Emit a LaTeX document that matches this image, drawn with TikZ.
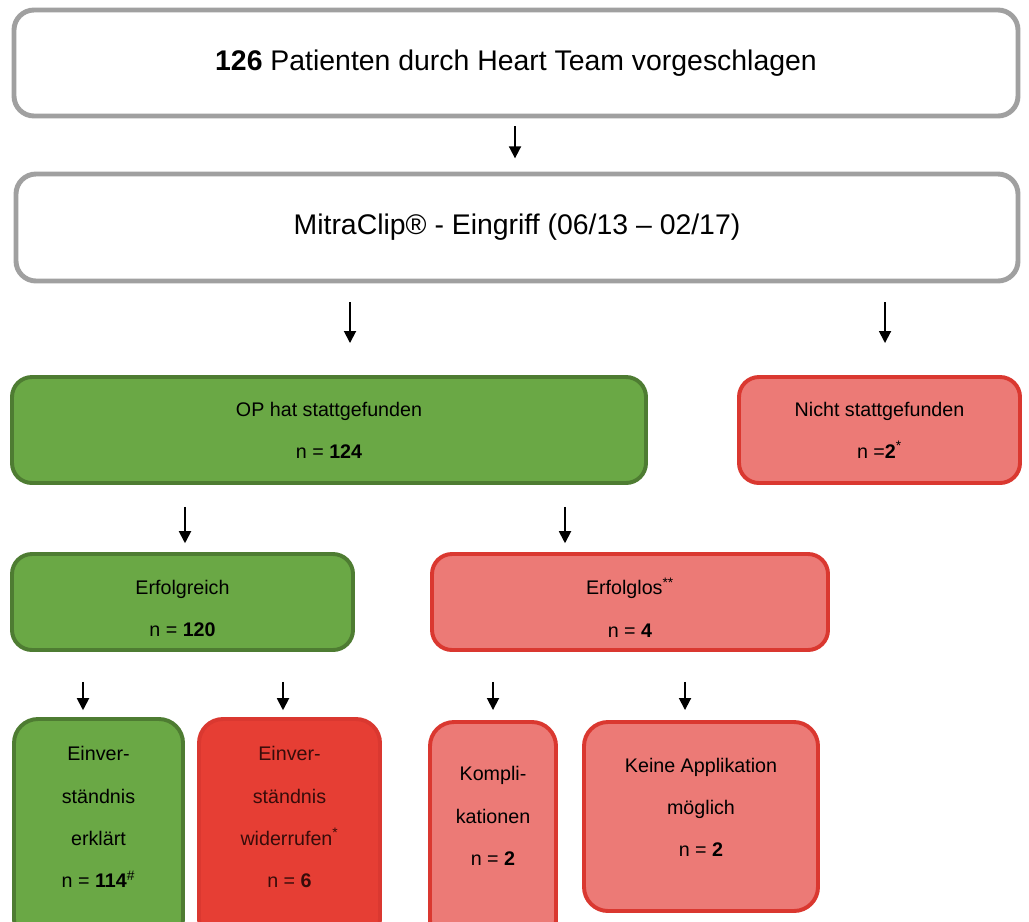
\documentclass[tikz,border=0pt]{standalone}
\usepackage{fontspec}
\setmainfont{Liberation Sans}
\usetikzlibrary{positioning, arrows.meta}
\definecolor{boxgray}{RGB}{160,160,160}
\definecolor{okgreen}{RGB}{106,168,69}
\definecolor{okgreenline}{RGB}{78,124,50}
\definecolor{failred}{RGB}{236,122,118}
\definecolor{failredline}{RGB}{218,56,48}
\definecolor{stopred}{RGB}{230,62,52}
\definecolor{stoptext}{RGB}{55,12,10}
\tikzset{
  px/.style 2 args={minimum width=#1*0.025cm, minimum height=#2*0.025cm},
  headbox/.style={draw=boxgray, line width=3.5pt, rounded corners=0.5cm, fill=white, align=center, font=\fontsize{20.2}{24}\selectfont},
  greenbox/.style={draw=okgreenline, fill=okgreen, line width=2.8pt, rounded corners=0.5cm, align=center, font=\fontsize{14}{30}\selectfont},
  redbox/.style={greenbox, draw=failredline, fill=failred},
  stopbox/.style={redbox, fill=stopred, text=stoptext},
  arr/.style={line width=1.3pt, -{Triangle[width=0.3cm,length=0.3cm]}},
}
\begin{document}
\begin{tikzpicture}[x=0.025cm, y=-0.025cm]
        \useasboundingbox (0,0) rectangle (1029,921);
        %Header
        \node[headbox, px={1004}{106}] (top) at (516,63) {\textbf{126} Patienten durch Heart Team vorgeschlagen};
        \node[headbox, px={1002}{107}] (mitra) at (517,227.5) {MitraClip® - Eingriff (06/13 – 02/17)};
        %Operation
        \node[greenbox, px={634}{106}] (op) at (329,430) {OP hat stattgefunden\\n = \textbf{124}};
        \node[redbox, px={281}{106}] (nicht) at (879.5,430) {Nicht stattgefunden\\n =\textbf{2}\textsuperscript{*}};
        %Result
        \node[greenbox, px={341}{96}, text height=1.75cm] (erfolg) at (182.5,602) {Erfolgreich\\n = \textbf{120}};
        \node[redbox, px={396}{96}, text height=1.75cm] (erfolglos) at (630,602) {Erfolglos\textsuperscript{**}\\n = \textbf{4}};
        %Consent / failure
        \node[greenbox, px={169}{224}, text depth=0.7cm, rounded corners=0.6cm] (einv) at (98.5,831) {Einver-\\ständnis\\erklärt\\n = \textbf{114}\textsuperscript{\#}};
        \node[stopbox, px={181}{224}, text depth=0.7cm, rounded corners=0.6cm] (wider) at (289.5,831) {Einver-\\ständnis\\widerrufen\textsuperscript{*}\\n = \textbf{6}};
        \node[redbox, px={126}{222}, text depth=0.85cm, rounded corners=0.6cm] (kompl) at (493,833) {Kompli-\\kationen\\n = \textbf{2}};
        \node[redbox, px={234}{189}, text depth=0.45cm, rounded corners=0.6cm] (keine) at (701,816.5) {Keine Applikation\\möglich\\n = \textbf{2}};
        %Arrows
        \coordinate (a1) at (515,0);
        \coordinate (a2) at (350,0);
        \coordinate (a3) at (885,0);
        \coordinate (a4) at (185,0);
        \coordinate (a5) at (565,0);
        \coordinate (a6) at (83,0);
        \coordinate (a7) at (283,0);
        \coordinate (a8) at (493,0);
        \coordinate (a9) at (685,0);
        \draw[arr, shorten <=0.2cm, shorten >=0.33cm] (top.south -| a1) -- (mitra.north -| a1);
        \draw[arr, shorten <=0.47cm, shorten >=0.8cm] (mitra.south -| a2) -- (op.north -| a2);
        \draw[arr, shorten <=0.47cm, shorten >=0.8cm] (mitra.south -| a3) -- (nicht.north -| a3);
        \draw[arr, shorten <=0.55cm, shorten >=0.22cm] (op.south -| a4) -- (erfolg.north -| a4);
        \draw[arr, shorten <=0.55cm, shorten >=0.22cm] (op.south -| a5) -- (erfolglos.north -| a5);
        \draw[arr, shorten <=0.75cm, shorten >=0.17cm] (erfolg.south -| a6) -- (einv.north -| a6);
        \draw[arr, shorten <=0.75cm, shorten >=0.17cm] (erfolg.south -| a7) -- (wider.north -| a7);
        \draw[arr, shorten <=0.75cm, shorten >=0.25cm] (erfolglos.south -| a8) -- (kompl.north -| a8);
        \draw[arr, shorten <=0.75cm, shorten >=0.25cm] (erfolglos.south -| a9) -- (keine.north -| a9);
\end{tikzpicture}
\end{document}
